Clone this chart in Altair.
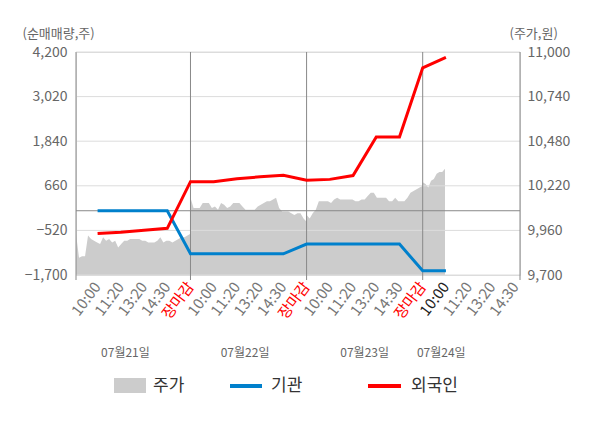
import numpy as np
import pandas as pd
import altair as alt

FONT = "Noto Sans CJK KR"

# ---------------- data ----------------
time_labels = ["10:00", "11:20", "13:20", "14:30", "장마감",
               "10:00", "11:20", "13:20", "14:30", "장마감",
               "10:00", "11:20", "13:20", "14:30", "장마감",
               "10:00", "11:20", "13:20", "14:30"]
label_kind = ["t", "t", "t", "t", "close",
              "t", "t", "t", "t", "close",
              "t", "t", "t", "t", "close",
              "now", "t", "t", "t"]
day_labels = ["07월21일", "07월22일", "07월23일", "07월24일"]
day_label_pos = [1.2, 6.35, 11.5, 14.8]

# net buying (shares) at each time slot
foreign_net = [-605, -566, -513, -465, 770, 765, 845, 897, 940, 807, 830, 930, 1952, 1952, 3781, 4060]
inst_net = [0, 0, 0, 0, -1140, -1140, -1140, -1140, -1140, -880, -880, -880, -880, -880, -1590, -1590]

# intraday stock price (won)
price_day1 = [9940, 9800, 9810, 9810, 9930, 9910, 9900, 9890, 9880, 9920, 9900, 9910, 9890,
              9900, 9860, 9880, 9900, 9900, 9910, 9910, 9910, 9910, 9900, 9900, 9890, 9890,
              9890, 9900, 9920, 9890, 9900, 9900, 9890, 9900, 9910, 9920, 9920, 9930, 9940]
price_day2 = [10150, 10090, 10090, 10090, 10120, 10120, 10120, 10090, 10100, 10080, 10120, 10110,
              10090, 10100, 10120, 10120, 10120, 10100, 10080, 10080, 10080, 10080, 10100, 10110,
              10120, 10130, 10130, 10140, 10150, 10090, 10070, 10070, 10070, 10060, 10050, 10060,
              10060, 10030, 10010]
price_day3 = [10050, 10030, 10060, 10080, 10130, 10130, 10130, 10130, 10120, 10140, 10150, 10140,
              10140, 10140, 10140, 10140, 10130, 10130, 10140, 10140, 10160, 10180, 10180, 10150,
              10150, 10150, 10150, 10130, 10130, 10150, 10130, 10130, 10130, 10150, 10180, 10190,
              10200, 10210, 10220]
price_day4 = [10240, 10230, 10210, 10250, 10260, 10290, 10300, 10300, 10320]

day_start = [-0.93, 4.001, 9.001, 14.001]
day_end = [4, 9, 14, 14.96]
x_domain = [-0.93, 18.19]
divider_pos = [-0.93, 4, 9, 14, 18.19]

left_ticks = [-1700, -520, 660, 1840, 3020, 4200]
right_ticks = [9700, 9960, 10220, 10480, 10740, 11000]

legend_names = ["주가", "기관", "외국인"]
legend_colors = ["#cccccc", "#0080cc", "#ff0000"]

# ---------------- tables ----------------
rows = []
for d, prices in enumerate([price_day1, price_day2, price_day3, price_day4]):
    xs = np.linspace(day_start[d], day_end[d], len(prices))
    for x, p in zip(xs, prices):
        rows.append({"px": float(x), "price": int(p)})
price_df = pd.DataFrame(rows)

foreign_df = pd.DataFrame({"i": list(range(len(foreign_net))), "v": foreign_net})
inst_df = pd.DataFrame({"i": list(range(len(inst_net))), "v": inst_net})
grid_df = pd.DataFrame({"v": left_ticks})
zero_df = pd.DataFrame({"v": [0]})
div_df = pd.DataFrame({"dx": divider_pos})
daylab_df = pd.DataFrame({"lx": day_label_pos, "t": day_labels})
tick_df = pd.DataFrame({"ti": list(range(len(time_labels))), "lab": time_labels, "kind": label_kind})

W, H = 444, 223

xscale = alt.Scale(domain=x_domain, nice=False, zero=False)
lscale = alt.Scale(domain=[left_ticks[0], left_ticks[-1]], nice=False, zero=False)
rscale = alt.Scale(domain=[right_ticks[0], right_ticks[-1]], nice=False, zero=False)

xaxis = alt.Axis(labels=False, ticks=False, grid=False, domainColor="#888888", title=None)

base_line = alt.Chart(inst_df).mark_line(color="#0080cc", strokeWidth=3).encode(
    x=alt.X("i:Q", scale=xscale, axis=xaxis),
    y=alt.Y("v:Q", scale=lscale, axis=None),
)

area = alt.Chart(price_df).mark_area(color="#cccccc", opacity=1).encode(
    x=alt.X("px:Q", scale=xscale, axis=None),
    y=alt.Y("price:Q", scale=rscale, stack=None, axis=alt.Axis(
        orient="right", values=right_ticks, format=",.0f", grid=False, ticks=False, domain=False,
        labelColor="#666666", labelFont=FONT, labelFontSize=14, labelPadding=7,
        title="(주가,원)", titleAngle=0, titleAlign="left", titleBaseline="middle",
        titleX=-11, titleY=-19, titleFont=FONT, titleFontSize=13, titleFontWeight="normal",
        titleColor="#666666")),
    y2=alt.datum(right_ticks[0]),
)

grid = alt.Chart(grid_df).mark_rule(color="#dcdcdc", strokeWidth=1).encode(
    y=alt.Y("v:Q", scale=lscale, axis=None)
)

zero = alt.Chart(zero_df).mark_rule(color="#888888", strokeWidth=1).encode(
    y=alt.Y("v:Q", scale=lscale, axis=None)
)

dividers = alt.Chart(div_df).mark_rule(color="#888888", strokeWidth=1).encode(
    x=alt.X("dx:Q", scale=xscale, axis=None),
    y=alt.value(0), y2=alt.value(H + 5),
)

foreign_line = alt.Chart(foreign_df).mark_line(color="#ff0000", strokeWidth=3).encode(
    x=alt.X("i:Q", scale=xscale, axis=None),
    y=alt.Y("v:Q", scale=lscale, axis=alt.Axis(
        orient="left", values=left_ticks, format=",.0f", grid=False, ticks=False, domain=False,
        labelColor="#666666", labelFont=FONT, labelFontSize=14, labelPadding=9,
        title="(순매매량,주)", titleAngle=0, titleAlign="left", titleBaseline="middle",
        titleX=-54, titleY=-19, titleFont=FONT, titleFontSize=13, titleFontWeight="normal",
        titleColor="#666666")),
)

tick_text = alt.Chart(tick_df).mark_text(font=FONT, fontSize=15, angle=307, align="right",
                                         baseline="middle").encode(
    x=alt.X("ti:Q", scale=xscale, axis=None),
    y=alt.value(H + 9),
    text="lab:N",
    color=alt.Color("kind:N", legend=None,
                    scale=alt.Scale(domain=["t", "close", "now"],
                                    range=["#777777", "#ff0000", "#222222"])),
)

day_text = alt.Chart(daylab_df).mark_text(font=FONT, fontSize=12, color="#666666",
                                          align="center", baseline="middle").encode(
    x=alt.X("lx:Q", scale=xscale, axis=None),
    y=alt.value(301),
    text="t:N",
)

# manual legend
leg_one = pd.DataFrame({"a": [0]})
leg_rect = alt.Chart(leg_one).mark_rect(color=legend_colors[0]).encode(
    x=alt.value(38), x2=alt.value(70), y=alt.value(326), y2=alt.value(341))
leg_blue = alt.Chart(leg_one).mark_rule(color=legend_colors[1], strokeWidth=4).encode(
    x=alt.value(154), x2=alt.value(186), y=alt.value(334))
leg_red = alt.Chart(leg_one).mark_rule(color=legend_colors[2], strokeWidth=4).encode(
    x=alt.value(292), x2=alt.value(325), y=alt.value(334))
leg_text_items = [
    alt.Chart(leg_one).mark_text(font=FONT, fontSize=17, color="#333333", align="left",
                                 baseline="middle", text=name).encode(
        x=alt.value(px), y=alt.value(334))
    for name, px in zip(legend_names, [77, 195, 335])
]

chart = alt.layer(
    area, grid, zero, dividers, base_line, foreign_line, tick_text, day_text,
    leg_rect, leg_blue, leg_red, *leg_text_items
).resolve_scale(y="independent").properties(
    width=W, height=H,
    autosize=alt.AutoSizeParams(type="none"),
    padding={"left": 68, "top": 44, "right": 600 - 16 - 68 - W, "bottom": 428 - 16 - 44 - H},
).configure_view(fill="#f4f4f4", stroke=None).configure(background="#ffffff")

chart.save("out.html", embed_options={"renderer": "svg", "actions": False})
